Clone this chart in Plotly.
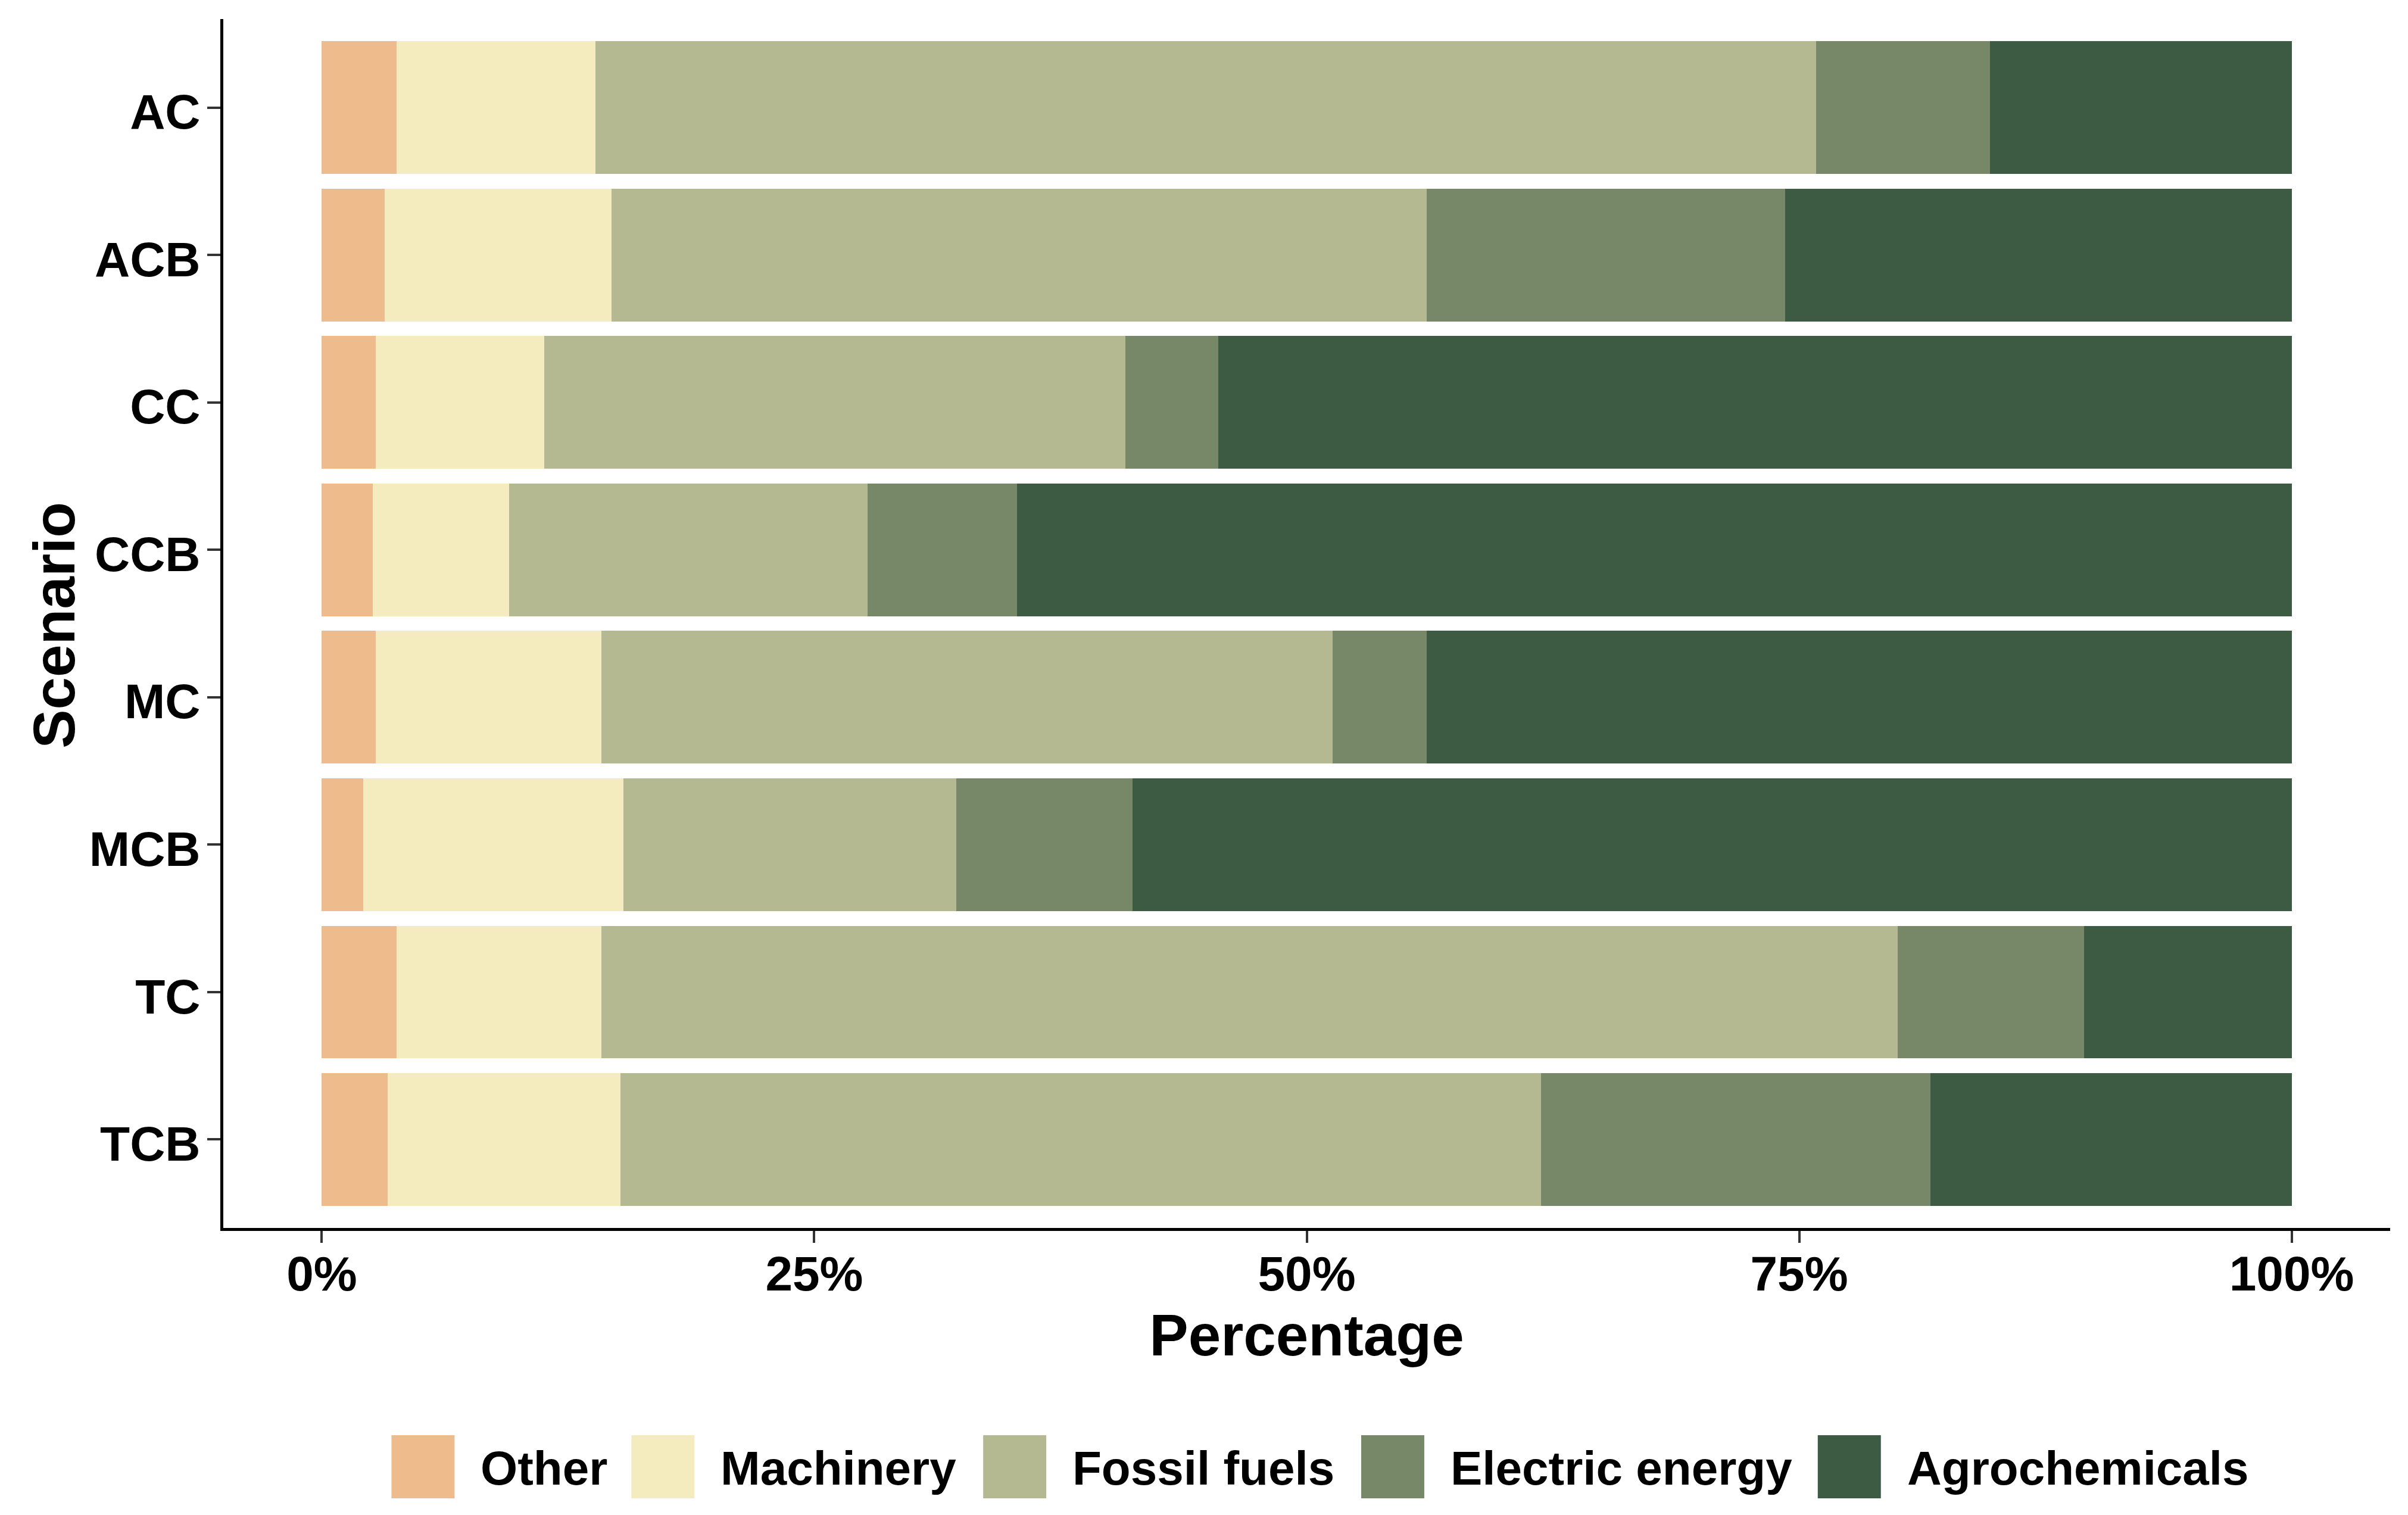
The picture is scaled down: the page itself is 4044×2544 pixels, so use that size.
import plotly.graph_objects as go

scenarios = ["AC", "ACB", "CC", "CCB", "MC", "MCB", "TC", "TCB"]
sources = ["Other", "Machinery", "Fossil fuels", "Electric energy", "Agrochemicals"]
colors = ["#EDBB8C", "#F4ECBE", "#B4B991", "#778868", "#3D5A43"]

other = [3.8, 3.2, 2.75, 2.6, 2.75, 2.1, 3.8, 3.35]
machinery = [10.1, 11.5, 8.55, 6.9, 11.45, 13.2, 10.4, 11.8]
fossil_fuels = [61.95, 41.4, 29.5, 18.2, 37.1, 16.9, 65.8, 46.75]
electric_energy = [8.85, 18.2, 4.7, 7.6, 4.8, 8.95, 9.45, 19.75]
agrochemicals = [15.3, 25.7, 54.5, 64.7, 43.9, 58.85, 10.55, 18.35]
series = [other, machinery, fossil_fuels, electric_energy, agrochemicals]

x_ticks = [0, 25, 50, 75, 100]
x_tick_labels = ["0%", "25%", "50%", "75%", "100%"]

W, H = 4044, 2544
OFF = 8  # default page body margin
L, R, T, B = 374.5 - OFF, 29.5 + OFF, 31.5 - OFF, 482 + OFF
FONT = "Liberation Sans"

fig = go.Figure()
for name, vals, col in zip(sources, series, colors):
    fig.add_trace(go.Bar(
        y=scenarios, x=vals, name=name, orientation="h",
        marker=dict(color=col, line=dict(width=0)),
        showlegend=False,
    ))

fig.update_layout(
    width=W, height=H,
    margin=dict(l=L, r=R, t=T, b=B, pad=0),
    barmode="stack", bargap=0.1,
    plot_bgcolor="white", paper_bgcolor="white",
    font=dict(family=FONT, size=82, color="black", weight="bold"),
)
fig.update_xaxes(
    range=[-5, 105], tickvals=x_ticks, ticktext=x_tick_labels,
    showgrid=False, zeroline=False,
    showline=True, linecolor="black", linewidth=5,
    ticks="outside", ticklen=20, tickwidth=4, tickcolor="#333333",
    ticklabelstandoff=-18,
    tickfont=dict(family=FONT, size=82, color="black", weight="bold"),
    title=dict(text="Percentage", font=dict(family=FONT, size=98, color="black", weight="bold"), standoff=25),
)
fig.update_yaxes(
    type="category", categoryorder="array", categoryarray=scenarios,
    range=[7.6, -0.6],
    showgrid=False, zeroline=False,
    showline=True, linecolor="black", linewidth=5,
    ticks="outside", ticklen=22, tickwidth=4, tickcolor="#333333",
    ticklabelstandoff=-5, ticklabelshift=-7,
    tickfont=dict(family=FONT, size=82, color="black", weight="bold"),
)

pw = W - L - R
ph = H - T - B
def px(xp):
    return (xp - OFF - L) / pw
def py(yp):
    return (H - B - (yp - OFF)) / ph

# y-axis title
fig.add_annotation(xref="paper", yref="paper", x=px(91), y=py(1050),
                   text="Scenario", textangle=-90, showarrow=False,
                   xanchor="center", yanchor="middle",
                   font=dict(family=FONT, size=98, color="black", weight="bold"))

# manual legend (keys sized like the reference)
key_x = [657, 1060, 1651, 2286, 3053]
key_size = 106
key_top, key_bot = 2410, 2516
for name, col, kx in zip(sources, colors, key_x):
    fig.add_shape(type="rect", xref="paper", yref="paper",
                  x0=px(kx), x1=px(kx + key_size), y0=py(key_bot), y1=py(key_top),
                  fillcolor=col, line=dict(width=0), layer="above")
    fig.add_annotation(xref="paper", yref="paper", x=px(kx + key_size + 42), y=py(2466),
                       text=name, showarrow=False, xanchor="left", yanchor="middle",
                       font=dict(family=FONT, size=80, color="black", weight="bold"))

fig.write_html("out.html")
